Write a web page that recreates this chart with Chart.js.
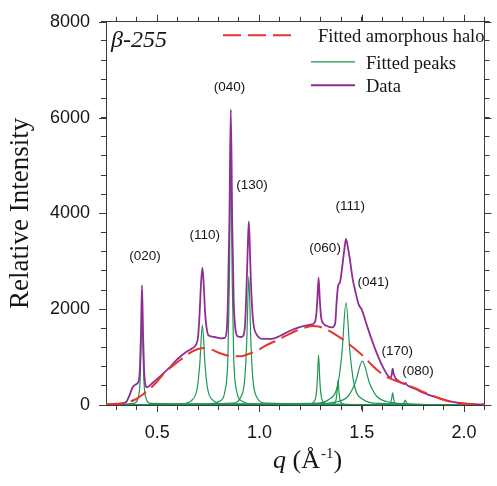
<!DOCTYPE html>
<html>
<head>
<meta charset="utf-8">
<title>beta-255 diffraction profile</title>
<script src="https://cdn.jsdelivr.net/npm/chart.js@4.4.1/dist/chart.umd.min.js"></script>
<style>
  html, body { margin: 0; padding: 0; background: #fff; }
  canvas { display: block; }
</style>
</head>
<body>
<canvas id="profile" width="497" height="486"></canvas>
<script>
// measured profile (q in 1/Angstrom, relative intensity)
const dataQ = [
  0.25, 0.30, 0.33, 0.35, 0.365, 0.38, 0.40, 0.411, 0.416, 0.421, 0.426, 0.431, 0.436, 0.442, 0.45, 0.46,
  0.48, 0.52, 0.56, 0.60, 0.64, 0.67, 0.69, 0.70, 0.708, 0.714, 0.721, 0.728, 0.734, 0.742, 0.752,
  0.78, 0.81, 0.83, 0.84, 0.846, 0.853, 0.86, 0.867, 0.874, 0.882, 0.895, 0.91, 0.92, 0.93, 0.938,
  0.943, 0.948, 0.953, 0.958, 0.968, 0.985, 1.02, 1.06, 1.10, 1.15, 1.20, 1.25, 1.265, 1.277, 1.283,
  1.289, 1.295, 1.301, 1.313, 1.33, 1.355, 1.37, 1.378, 1.385, 1.393, 1.405, 1.415, 1.423, 1.432,
  1.44, 1.455, 1.47, 1.485, 1.50, 1.515, 1.53, 1.55, 1.57, 1.60, 1.63, 1.642, 1.647, 1.651, 1.656,
  1.665, 1.68, 1.70, 1.708, 1.713, 1.718, 1.73, 1.76, 1.80, 1.85, 1.90, 1.95, 2.00, 2.05, 2.10
];
const dataI = [
  10, 15, 30, 70, 200, 370, 440, 520, 800, 1500, 2500, 1500, 750, 430, 370, 390,
  470, 620, 780, 960, 1100, 1180, 1260, 1420, 1950, 2500, 2870, 2500, 1950, 1600, 1450,
  1420, 1390, 1400, 1550, 2200, 3800, 6170, 3800, 2200, 1600, 1430, 1420, 1440, 1700, 2600,
  3300, 3830, 3300, 2600, 1800, 1480, 1380, 1380, 1440, 1550, 1630, 1680, 1700, 1850, 2200,
  2660, 2200, 1850, 1700, 1650, 1620, 1700, 2200, 2500, 2550, 2900, 3250, 3470, 3300,
  3100, 2650, 2350, 2100, 1990, 1800, 1600, 1350, 1120, 820, 600, 570, 650, 757, 650,
  560, 500, 450, 440, 460, 430, 390, 340, 260, 180, 110, 60, 35, 20, 12
];

// fitted amorphous halo
const haloQ = [
  0.25, 0.30, 0.35, 0.39, 0.43, 0.46, 0.50, 0.54, 0.58, 0.62, 0.66, 0.70, 0.735, 0.77, 0.80, 0.83,
  0.87, 0.91, 0.95, 0.99, 1.03, 1.07, 1.10, 1.14, 1.18, 1.22, 1.26, 1.29, 1.32, 1.36, 1.40, 1.44,
  1.47, 1.51, 1.55, 1.59, 1.63, 1.67, 1.71, 1.76, 1.82, 1.88, 1.93, 1.98, 2.04, 2.10
];
const haloI = [
  15, 25, 50, 110, 220, 320, 490, 690, 830, 960, 1090, 1170, 1190, 1150, 1090, 1050,
  1020, 1020, 1070, 1140, 1240, 1320, 1380, 1470, 1550, 1610, 1650, 1640, 1590, 1500, 1390, 1260,
  1160, 1010, 830, 680, 570, 500, 440, 350, 240, 140, 70, 35, 18, 10
];

// fitted crystalline peaks
const peakNames = ['020', '110', '040', '130', '060', '1.38', '111', '041', '170', '080'];
const peakQ = [
  [0.25, 0.386, 0.406, 0.416, 0.421, 0.426, 0.431, 0.436, 0.446, 0.466, 2.1],
  [0.25, 0.617, 0.669, 0.695, 0.708, 0.721, 0.734, 0.747, 0.773, 0.825, 2.1],
  [0.25, 0.748, 0.804, 0.832, 0.846, 0.853, 0.86, 0.867, 0.874, 0.888, 0.916, 0.972, 2.1],
  [0.25, 0.868, 0.908, 0.928, 0.938, 0.948, 0.958, 0.968, 0.988, 1.028, 2.1],
  [0.25, 1.241, 1.265, 1.277, 1.283, 1.289, 1.295, 1.301, 1.313, 1.337, 2.1],
  [0.25, 1.344, 1.364, 1.374, 1.379, 1.384, 1.389, 1.394, 1.404, 1.424, 2.1],
  [0.25, 1.263, 1.343, 1.383, 1.403, 1.423, 1.443, 1.463, 1.503, 1.583, 2.1],
  [0.25, 1.223, 1.363, 1.433, 1.468, 1.503, 1.538, 1.573, 1.643, 1.783, 2.1],
  [0.25, 1.611, 1.631, 1.641, 1.646, 1.651, 1.656, 1.661, 1.671, 1.691, 2.1],
  [0.25, 1.665, 1.689, 1.701, 1.707, 1.713, 1.719, 1.725, 1.737, 1.761, 2.1]
];
const peakI = [
  [0, 35, 135, 460, 1150, 2300, 1150, 460, 135, 35, 0],
  [0, 25, 98, 334, 835, 1670, 835, 334, 98, 25, 0],
  [0, 20, 78, 303, 1030, 2575, 5150, 2575, 1030, 303, 78, 20, 0],
  [0, 40, 158, 536, 1340, 2680, 1340, 536, 158, 40, 0],
  [0, 16, 61, 208, 520, 1040, 520, 208, 61, 16, 0],
  [0, 8, 31, 104, 260, 520, 260, 104, 31, 8, 0],
  [0, 32, 126, 428, 1070, 2140, 1070, 428, 126, 32, 0],
  [0, 14, 54, 183, 458, 915, 458, 183, 54, 14, 0],
  [0, 4, 15, 51, 128, 255, 128, 51, 15, 4, 0],
  [0, 2, 6, 20, 50, 100, 50, 20, 6, 2, 0]
];

// reflection labels, anchored in data coordinates
const hklLabels = ['(020)', '(110)', '(040)', '(130)', '(060)', '(111)', '(041)', '(170)', '(080)'];
const hklQ = [0.441, 0.733, 0.854, 0.964, 1.321, 1.444, 1.556, 1.674, 1.775];
const hklI = [3097, 3551, 6627, 4593, 3282, 4150, 2560, 1125, 701];

// axis ticks
const xTicks = [0.3, 0.4, 0.5, 0.6, 0.7, 0.8, 0.9, 1.0, 1.1, 1.2, 1.3, 1.4, 1.5, 1.6, 1.7, 1.8, 1.9, 2.0, 2.1];
const xMajor = [0.5, 1.0, 1.5, 2.0];
const yTicks = [0, 400, 800, 1200, 1600, 2000, 2400, 2800, 3200, 3600, 4000, 4400, 4800, 5200, 5600, 6000,
  6400, 6800, 7200, 7600, 8000];
const yMajor = [0, 2000, 4000, 6000, 8000];

const RED = '#e8352b';
const GREEN = '#1e9652';
const PURPLE = '#902d92';
const INK = '#161616';
const AXIS = '#3a3a3a';

const toPoints = (xs, ys) => xs.map((x, i) => ({ x: x, y: ys[i] }));

const datasets = [
  {
    label: 'Fitted amorphous halo',
    data: toPoints(haloQ, haloI),
    borderColor: RED,
    borderWidth: 2,
    borderDash: [18, 7],
    cubicInterpolationMode: 'monotone',
    pointRadius: 0,
    order: 0
  },
  {
    label: 'Data',
    data: toPoints(dataQ, dataI),
    borderColor: PURPLE,
    borderWidth: 1.8,
    cubicInterpolationMode: 'monotone',
    pointRadius: 0,
    order: 1
  }
];
peakQ.forEach((qs, i) => {
  datasets.push({
    label: 'Fitted peaks ' + peakNames[i],
    data: toPoints(qs, peakI[i]),
    borderColor: GREEN,
    borderWidth: 1.2,
    cubicInterpolationMode: 'monotone',
    pointRadius: 0,
    order: 2
  });
});

// longer marks at the labelled values on all four sides
const majorTicks = {
  id: 'majorTicks',
  afterDraw(chart) {
    const { ctx, chartArea: a, scales } = chart;
    ctx.save();
    ctx.strokeStyle = AXIS;
    ctx.lineWidth = 1;
    ctx.beginPath();
    xMajor.forEach(v => {
      const px = Math.round(scales.x.getPixelForValue(v)) + 0.5;
      ctx.moveTo(px, a.bottom); ctx.lineTo(px, a.bottom + 7);
      ctx.moveTo(px, a.top); ctx.lineTo(px, a.top - 7);
    });
    yMajor.forEach(v => {
      const py = Math.round(scales.y.getPixelForValue(v)) + 0.5;
      ctx.moveTo(a.left, py); ctx.lineTo(a.left - 7, py);
      ctx.moveTo(a.right, py); ctx.lineTo(a.right + 7, py);
    });
    ctx.stroke();
    ctx.restore();
  }
};

// legend, reflection labels, sample name and x-axis title
const decorations = {
  id: 'decorations',
  afterDraw(chart) {
    const { ctx, chartArea: a, scales } = chart;
    ctx.save();

    // reflection indices
    ctx.fillStyle = INK;
    ctx.font = '13.5px "Liberation Sans", Arial, sans-serif';
    ctx.textAlign = 'center';
    ctx.textBaseline = 'middle';
    hklLabels.forEach((t, i) => {
      ctx.fillText(t, scales.x.getPixelForValue(hklQ[i]), scales.y.getPixelForValue(hklI[i]));
    });

    // sample name
    ctx.textAlign = 'left';
    ctx.textBaseline = 'alphabetic';
    ctx.font = 'italic 24px "Liberation Serif", "Times New Roman", serif';
    ctx.fillText('\u03B2-255', a.left + 5, a.top + 25.5);

    // legend
    ctx.font = '18.5px "Liberation Serif", "Times New Roman", serif';
    ctx.lineWidth = 2;
    ctx.strokeStyle = RED;
    ctx.setLineDash([18, 7]);
    ctx.beginPath();
    ctx.moveTo(a.left + 117, a.top + 13.5);
    ctx.lineTo(a.left + 186, a.top + 13.5);
    ctx.stroke();
    ctx.setLineDash([]);
    ctx.fillText('Fitted amorphous halo', a.left + 212, a.top + 20);

    ctx.lineWidth = 1.3;
    ctx.strokeStyle = GREEN;
    ctx.beginPath();
    ctx.moveTo(a.left + 205, a.top + 40);
    ctx.lineTo(a.left + 249, a.top + 40);
    ctx.stroke();
    ctx.fillText('Fitted peaks', a.left + 260, a.top + 47);

    ctx.lineWidth = 2;
    ctx.strokeStyle = PURPLE;
    ctx.beginPath();
    ctx.moveTo(a.left + 205, a.top + 63.5);
    ctx.lineTo(a.left + 249, a.top + 63.5);
    ctx.stroke();
    ctx.fillText('Data', a.left + 260, a.top + 70.5);

    // x-axis title: q (Å^-1)
    let x = a.left + 167;
    const y = a.bottom + 63;
    ctx.font = 'italic 26px "Liberation Serif", "Times New Roman", serif';
    ctx.fillText('q', x, y);
    x += ctx.measureText('q').width;
    ctx.font = '26px "Liberation Serif", "Times New Roman", serif';
    ctx.fillText(' (\u00C5', x, y);
    x += ctx.measureText(' (\u00C5').width;
    ctx.font = '15px "Liberation Serif", "Times New Roman", serif';
    ctx.fillText('-1', x + 1, y - 10);
    x += ctx.measureText('-1').width + 1;
    ctx.font = '26px "Liberation Serif", "Times New Roman", serif';
    ctx.fillText(')', x, y);

    ctx.restore();
  }
};

const tickFont = { family: '"Liberation Sans", Arial, sans-serif', size: 18 };
const frameGrid = { drawOnChartArea: false, drawTicks: true, tickLength: 5, color: AXIS };
const frameBorder = { display: true, color: AXIS, width: 1 };

new Chart(document.getElementById('profile'), {
  type: 'line',
  data: { datasets: datasets },
  options: {
    responsive: false,
    animation: false,
    devicePixelRatio: 1,
    layout: { padding: { top: 12.5, right: 0, bottom: 0, left: 0 } },
    plugins: {
      legend: { display: false },
      tooltip: { enabled: false }
    },
    scales: {
      x: {
        type: 'linear',
        position: 'bottom',
        min: 0.25,
        max: 2.1,
        afterBuildTicks: s => { s.ticks = xTicks.map(v => ({ value: v })); },
        afterFit: s => { s.height = 81; },
        ticks: {
          autoSkip: false,
          maxRotation: 0,
          padding: 12.5,
          color: INK,
          font: tickFont,
          callback: v => (xMajor.some(m => Math.abs(m - v) < 1e-6) ? v.toFixed(1) : '')
        },
        grid: frameGrid,
        border: frameBorder
      },
      xTop: {
        type: 'linear',
        position: 'top',
        min: 0.25,
        max: 2.1,
        afterBuildTicks: s => { s.ticks = xTicks.map(v => ({ value: v })); },
        afterFit: s => { s.height = 5; },
        ticks: { display: false },
        grid: frameGrid,
        border: frameBorder
      },
      y: {
        type: 'linear',
        position: 'left',
        min: 0,
        max: 8000,
        afterBuildTicks: s => { s.ticks = yTicks.map(v => ({ value: v })); },
        afterFit: s => { s.width = 106; },
        ticks: {
          autoSkip: false,
          padding: 11,
          color: INK,
          font: tickFont,
          callback: v => (yMajor.includes(v) ? String(v) : '')
        },
        title: {
          display: true,
          text: 'Relative Intensity',
          color: INK,
          font: { family: '"Liberation Serif", "Times New Roman", serif', size: 27, lineHeight: 1 },
          padding: { top: 7.5, bottom: 0 }
        },
        grid: frameGrid,
        border: frameBorder
      },
      yRight: {
        type: 'linear',
        position: 'right',
        min: 0,
        max: 8000,
        afterBuildTicks: s => { s.ticks = yTicks.map(v => ({ value: v })); },
        afterFit: s => { s.width = 4; },
        ticks: { display: false },
        grid: frameGrid,
        border: frameBorder
      }
    }
  },
  plugins: [majorTicks, decorations]
});
</script>
</body>
</html>
